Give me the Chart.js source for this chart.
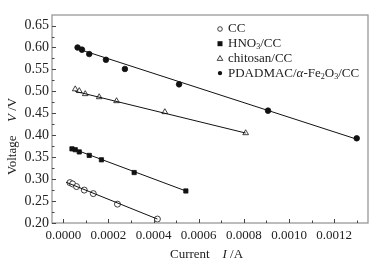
<!DOCTYPE html>
<html>
<head>
<meta charset="utf-8">
<script src="https://cdn.jsdelivr.net/npm/chart.js@4/dist/chart.umd.min.js"></script>
<style>
  html, body { margin: 0; padding: 0; background: #fff; }
  canvas { display: block; }
</style>
</head>
<body>
<canvas id="grafica" width="381" height="265"></canvas>
<script>
// ticks del eje
const xTicks = [0, 0.0002, 0.0004, 0.0006, 0.0008, 0.0010, 0.0012];
const yTicks = [0.20, 0.25, 0.30, 0.35, 0.40, 0.45, 0.50, 0.55, 0.60, 0.65];

// CC (circulo abierto)
const ccI = [0.0000296, 0.0000412, 0.0000588, 0.0000929, 0.000133, 0.000240, 0.000417];
const ccV = [0.292, 0.289, 0.283, 0.275, 0.267, 0.243, 0.209];

// HNO3/CC (cuadrado lleno)
const hnoI = [0.0000385, 0.000053, 0.0000708, 0.000115, 0.000169, 0.000314, 0.000543];
const hnoV = [0.369, 0.367, 0.362, 0.354, 0.344, 0.315, 0.273];

// chitosan/CC (triangulo abierto)
const quiI = [0.000053, 0.0000708, 0.0000973, 0.000159, 0.000236, 0.000450, 0.000808];
const quiV = [0.505, 0.501, 0.494, 0.487, 0.478, 0.453, 0.405];

// PDADMAC/a-Fe2O3/CC (circulo lleno)
const pdaI = [0.0000633, 0.0000827, 0.000115, 0.000189, 0.000273, 0.000513, 0.000907, 0.00130];
const pdaV = [0.600, 0.595, 0.585, 0.572, 0.551, 0.516, 0.456, 0.393];

// rectas de ajuste (extremos)
const ajusteCC_I = [0.000012, 0.000417];
const ajusteCC_V = [0.293, 0.209];
const ajusteHNO_I = [0.0000385, 0.000543];
const ajusteHNO_V = [0.370, 0.273];
const ajusteQui_I = [0.000053, 0.000808];
const ajusteQui_V = [0.500, 0.405];
const ajustePda_I = [0.0000633, 0.00130];
const ajustePda_V = [0.597, 0.391];

const serif = "'Liberation Serif', 'Times New Roman', serif";

function puntos(xs, ys) {
  return xs.map((x, i) => ({ x: x, y: ys[i] }));
}

function recta(xs, ys) {
  return {
    type: "line",
    data: puntos(xs, ys),
    borderColor: "#111",
    borderWidth: 1,
    pointRadius: 0,
    showLine: true,
    fill: false,
  };
}

function serie(xs, ys, estilo, relleno, radio) {
  return {
    type: "scatter",
    data: puntos(xs, ys),
    pointStyle: estilo,
    pointRadius: radio,
    pointBorderWidth: 0.8,
    pointBorderColor: "#111",
    pointBackgroundColor: relleno ? "#111" : "#fff",
    showLine: false,
  };
}

// texto con subindices y cursivas
function textoMixto(ctx, x, y, partes, size) {
  let cx = x;
  partes.forEach(p => {
    const s = p.sub ? size * 0.62 : size;
    ctx.font = (p.it ? "italic " : "") + s + "px " + serif;
    ctx.fillText(p.t, cx, p.sub ? y + size * 0.28 : y);
    cx += ctx.measureText(p.t).width;
  });
}

const leyenda = [
  { marca: "circulo", relleno: false, partes: [{ t: "CC" }] },
  { marca: "cuadro", relleno: true, partes: [{ t: "HNO" }, { t: "3", sub: true }, { t: "/CC" }] },
  { marca: "triangulo", relleno: false, partes: [{ t: "chitosan/CC" }] },
  { marca: "circulo", relleno: true, partes: [{ t: "PDADMAC/" }, { t: "\u03b1", it: true }, { t: "-Fe" }, { t: "2", sub: true }, { t: "O" }, { t: "3", sub: true }, { t: "/CC" }] },
];

const extras = {
  id: "extras",
  afterDraw(chart) {
    const ctx = chart.ctx;
    const a = chart.chartArea;
    const sx = chart.scales.x;
    const sy = chart.scales.y;
    ctx.save();

    // marco
    ctx.strokeStyle = "#999";
    ctx.lineWidth = 1.3;
    ctx.strokeRect(a.left, a.top, a.right - a.left, a.bottom - a.top);

    // marcas hacia adentro
    ctx.strokeStyle = "#444";
    ctx.lineWidth = 1;
    ctx.beginPath();
    for (let k = 0; k <= 13; k++) {
      const v = k * 0.0001;
      const px = Math.round(sx.getPixelForValue(v)) + 0.5;
      const len = k % 2 === 0 ? 4 : 2.5;
      ctx.moveTo(px, a.bottom);
      ctx.lineTo(px, a.bottom - len);
    }
    for (let k = 0; k <= 18; k++) {
      const v = 0.2 + k * 0.025;
      const py = Math.round(sy.getPixelForValue(v)) + 0.5;
      const len = k % 2 === 0 ? 4 : 2.5;
      ctx.moveTo(a.left, py);
      ctx.lineTo(a.left + len, py);
    }
    ctx.stroke();

    // titulos de ejes
    ctx.fillStyle = "#222";
    ctx.textBaseline = "middle";
    ctx.textAlign = "left";
    textoMixto(ctx, 170, 255, [{ t: "Current" }], 13);
    textoMixto(ctx, 222.5, 255, [{ t: "I", it: true }, { t: " /A" }], 13);

    ctx.save();
    ctx.translate(13, 175);
    ctx.rotate(-Math.PI / 2);
    textoMixto(ctx, 0, 0, [{ t: "Voltage" }], 13);
    textoMixto(ctx, 53, 0, [{ t: "V", it: true }, { t: " /V" }], 13);
    ctx.restore();

    // leyenda
    leyenda.forEach((e, i) => {
      const y = 29 + i * 14.7;
      const mx = 220;
      ctx.fillStyle = "#111";
      ctx.strokeStyle = "#111";
      ctx.lineWidth = 0.8;
      ctx.beginPath();
      if (e.marca === "circulo") {
        ctx.arc(mx, y, e.relleno ? 2.2 : 2.3, 0, Math.PI * 2);
      } else if (e.marca === "cuadro") {
        ctx.rect(mx - 2.5, y - 2.5, 5, 5);
      } else {
        ctx.moveTo(mx, y - 2.8);
        ctx.lineTo(mx + 2.8, y + 2);
        ctx.lineTo(mx - 2.8, y + 2);
        ctx.closePath();
      }
      if (e.relleno) ctx.fill(); else ctx.stroke();
      ctx.fillStyle = "#222";
      textoMixto(ctx, 228, y, e.partes, 13);
    });

    ctx.restore();
  },
};

new Chart(document.getElementById("grafica").getContext("2d"), {
  data: {
    datasets: [
      recta(ajusteCC_I, ajusteCC_V),
      recta(ajusteHNO_I, ajusteHNO_V),
      recta(ajusteQui_I, ajusteQui_V),
      recta(ajustePda_I, ajustePda_V),
      serie(ccI, ccV, "circle", false, 3),
      serie(hnoI, hnoV, "rect", true, 3),
      serie(quiI, quiV, "triangle", false, 3.3),
      serie(pdaI, pdaV, "circle", true, 2.8),
    ],
  },
  options: {
    responsive: false,
    animation: false,
    devicePixelRatio: 1,
    layout: { padding: { top: 15, right: 13, left: 0, bottom: 0 } },
    plugins: {
      legend: { display: false },
      tooltip: { enabled: false },
    },
    scales: {
      x: {
        type: "linear",
        min: -0.00005,
        max: 0.00135,
        grid: { display: false, drawTicks: false },
        border: { display: false },
        afterBuildTicks: s => { s.ticks = xTicks.map(v => ({ value: v })); },
        afterFit: s => { s.height = 42; },
        ticks: {
          padding: 5,
          color: "#222",
          font: { family: serif, size: 13 },
          maxRotation: 0,
          callback: v => v.toFixed(4),
        },
      },
      y: {
        type: "linear",
        min: 0.2,
        max: 0.674,
        grid: { display: false, drawTicks: false },
        border: { display: false },
        afterBuildTicks: s => { s.ticks = yTicks.map(v => ({ value: v })); },
        afterFit: s => { s.width = 52; },
        ticks: {
          padding: 3,
          color: "#222",
          font: { family: serif, size: 14 },
          callback: v => v.toFixed(2),
        },
      },
    },
  },
  plugins: [extras],
});
</script>
</body>
</html>
